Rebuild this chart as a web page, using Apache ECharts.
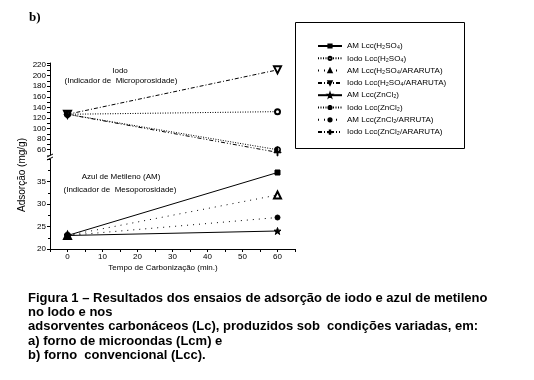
<!DOCTYPE html>
<html><head><meta charset="utf-8">
<script src="https://cdn.jsdelivr.net/npm/echarts@6/dist/echarts.min.js"></script>
<style>html,body{margin:0;padding:0;background:#fff}#c{width:534px;height:380px}</style>
</head><body><div id="c"></div>
<script>
// Data
const xTimes = [0, 60];
const seriesNames = [
  'AM Lcc(H₂SO₄)',
  'Iodo Lcc(H₂SO₄)',
  'AM Lcc(H₂SO₄/ARARUTA)',
  'Iodo Lcc(H₂SO₄/ARARUTA)',
  'AM Lcc(ZnCl₂)',
  'Iodo Lcc(ZnCl₂)',
  'AM Lcc(ZnCl₂/ARRUTA)',
  'Iodo Lcc(ZnCl₂/ARARUTA)'
];
const amH2SO4 = [23, 37];
const iodoH2SO4 = [127, 132];
const amH2SO4Araruta = [23, 32];
const iodoH2SO4Araruta = [127, 211];
const amZnCl2 = [23, 24];
const iodoZnCl2 = [127, 60];
const amZnCl2Araruta = [23, 27];
const iodoZnCl2Araruta = [127, 55];
const xTickLabels = [0, 10, 20, 30, 40, 50, 60];
const yTopLabels = [60, 80, 100, 120, 140, 160, 180, 200, 220];
const yBottomLabels = [20, 25, 30, 35];
const captionLines = [
  'Figura 1 – Resultados dos ensaios de adsorção de iodo e azul de metileno',
  'no lodo e nos',
  'adsorventes carbonáceos (Lc), produzidos sob  condições variadas, em:',
  'a) forno de microondas (Lcm) e',
  'b) forno  convencional (Lcc).'
];

const FONT = '"Liberation Sans", Arial, sans-serif';
const pts = arr => xTimes.map((x, i) => [x, arr[i]]);

const SYM = {
  square: 'rect',
  emptyCircle: 'emptyCircle',
  emptyTri: 'emptyTriangle',
  star: 'path://M5,0L6.2,3.6L10,3.6L7,5.9L8.1,9.5L5,7.3L1.9,9.5L3,5.9L0,3.6L3.8,3.6Z',
  half: 'path://M5,0A5,5 0 0 0 5,10ZM5,0A5,5 0 0 1 5,10L5,8.8A3.8,3.8 0 0 0 5,1.2Z',
  plus: 'path://M4.4,0h1.2v4.4h4.4v1.2h-4.4v4.4h-1.2v-4.4h-4.4v-1.2h4.4z'
};

function mk(name, data, grid, symbol, size, dash, extra) {
  return Object.assign({
    name: name, type: 'line',
    xAxisIndex: grid, yAxisIndex: grid,
    data: pts(data),
    symbol: symbol, symbolSize: size,
    showAllSymbol: true,
    itemStyle: {color: '#000', borderColor: '#000', borderWidth: 1},
    lineStyle: {color: '#000', width: 1, type: dash},
    emphasis: {disabled: true},
    animation: false
  }, extra || {});
}

const series = [
  mk(seriesNames[0], amH2SO4, 1, SYM.square, 5, 'solid'),
  mk(seriesNames[1], iodoH2SO4, 0, SYM.emptyCircle, 5, [1, 1.5]),
  mk(seriesNames[2], amH2SO4Araruta, 1, SYM.emptyTri, 7, [1, 5]),
  mk(seriesNames[3], iodoH2SO4Araruta, 0, SYM.emptyTri, 7, [4, 2, 1, 2], {symbolRotate: 180}),
  mk(seriesNames[4], amZnCl2, 1, SYM.star, 7, 'solid'),
  mk(seriesNames[5], iodoZnCl2, 0, SYM.half, 6, [1, 1.5]),
  mk(seriesNames[6], amZnCl2Araruta, 1, 'circle', 5, [1, 5]),
  mk(seriesNames[7], iodoZnCl2Araruta, 0, SYM.plus, 7, [4, 2, 1, 2, 1, 2])
];

const axisCommon = {
  axisLine: {show: true, onZero: false, lineStyle: {color: '#000', width: 1}},
  axisTick: {show: true, length: 3, lineStyle: {color: '#000'}},
  axisLabel: {color: '#000', fontFamily: FONT, fontSize: 8, margin: 4},
  splitLine: {show: false}
};

const chart = echarts.init(document.getElementById('c'), null, {renderer: 'canvas'});
chart.setOption({
  backgroundColor: '#fff',
  animation: false,
  grid: [
    {left: 50, top: 63, width: 245, height: 92},
    {left: 50, top: 159, width: 245, height: 90}
  ],
  xAxis: [
    Object.assign({}, axisCommon, {gridIndex: 0, type: 'value', min: -5, max: 65, interval: 5,
      axisLine: {show: false}, axisTick: {show: false}, axisLabel: {show: false}}),
    Object.assign({}, axisCommon, {gridIndex: 1, type: 'value', min: -5, max: 65, interval: 5,
      axisLabel: Object.assign({}, axisCommon.axisLabel, {
        formatter: v => xTickLabels.indexOf(v) >= 0 ? String(v) : ''
      })})
  ],
  yAxis: [
    Object.assign({}, axisCommon, {gridIndex: 0, type: 'value', min: 50, max: 224, interval: 10,
      axisLabel: Object.assign({}, axisCommon.axisLabel, {
        formatter: v => yTopLabels.indexOf(v) >= 0 ? String(v) : ''
      })}),
    Object.assign({}, axisCommon, {gridIndex: 1, type: 'value', min: 20, max: 40, interval: 5,
      minorTick: {show: true, splitNumber: 2, length: 2, lineStyle: {color: '#000'}},
      axisLabel: Object.assign({}, axisCommon.axisLabel, {
        formatter: v => yBottomLabels.indexOf(v) >= 0 ? String(v) : ''
      })})
  ],
  legend: {
    orient: 'vertical', left: 312, top: 36,
    data: seriesNames,
    itemWidth: 24, itemHeight: 4, itemGap: 2.3,
    textStyle: {color: '#000', fontFamily: FONT, fontSize: 8, lineHeight: 10},
    selectedMode: false
  },
  series: series,
  graphic: [
    {type: 'rect', shape: {x: 295.5, y: 22.5, width: 169, height: 126}, style: {fill: null, stroke: '#000', lineWidth: 1}, silent: true},
    {type: 'text', left: 29, top: 11, style: {text: 'b)', font: 'bold 13px "Liberation Serif", "Times New Roman", serif', fill: '#000'}},
    {type: 'text', x: 120, y: 71, style: {text: 'Iodo', font: '8px ' + FONT, fill: '#000', textAlign: 'center', textVerticalAlign: 'middle'}},
    {type: 'text', x: 121, y: 81, style: {text: '(Indicador de  Microporosidade)', font: '8px ' + FONT, fill: '#000', textAlign: 'center', textVerticalAlign: 'middle'}},
    {type: 'text', x: 121, y: 177, style: {text: 'Azul de Metileno (AM)', font: '8px ' + FONT, fill: '#000', textAlign: 'center', textVerticalAlign: 'middle'}},
    {type: 'text', x: 120, y: 190, style: {text: '(Indicador de  Mesoporosidade)', font: '8px ' + FONT, fill: '#000', textAlign: 'center', textVerticalAlign: 'middle'}},
    {type: 'text', x: 22, y: 175, rotation: Math.PI / 2, style: {text: 'Adsorção (mg/g)', font: '10px ' + FONT, fill: '#000', textAlign: 'center', textVerticalAlign: 'middle'}},
    {type: 'text', x: 163, y: 268, style: {text: 'Tempo de Carbonização (min.)', font: '8px ' + FONT, fill: '#000', textAlign: 'center', textVerticalAlign: 'middle'}},
    // axis break marks
    {type: 'rect', shape: {x: 47, y: 155.5, width: 7, height: 3}, style: {fill: '#fff'}, z: 10},
    {type: 'polyline', shape: {points: [[47, 157], [53, 154]]}, style: {stroke: '#000', lineWidth: 1}, z: 11},
    {type: 'polyline', shape: {points: [[47, 160], [53, 157]]}, style: {stroke: '#000', lineWidth: 1}, z: 11}
  ].concat(captionLines.map((t, i) => ({
    type: 'text', x: 28, y: 298 + i * 14.4,
    style: {text: t, font: 'bold 13px ' + FONT, fill: '#000', textVerticalAlign: 'middle'}
  })))
});
</script>
</body></html>
